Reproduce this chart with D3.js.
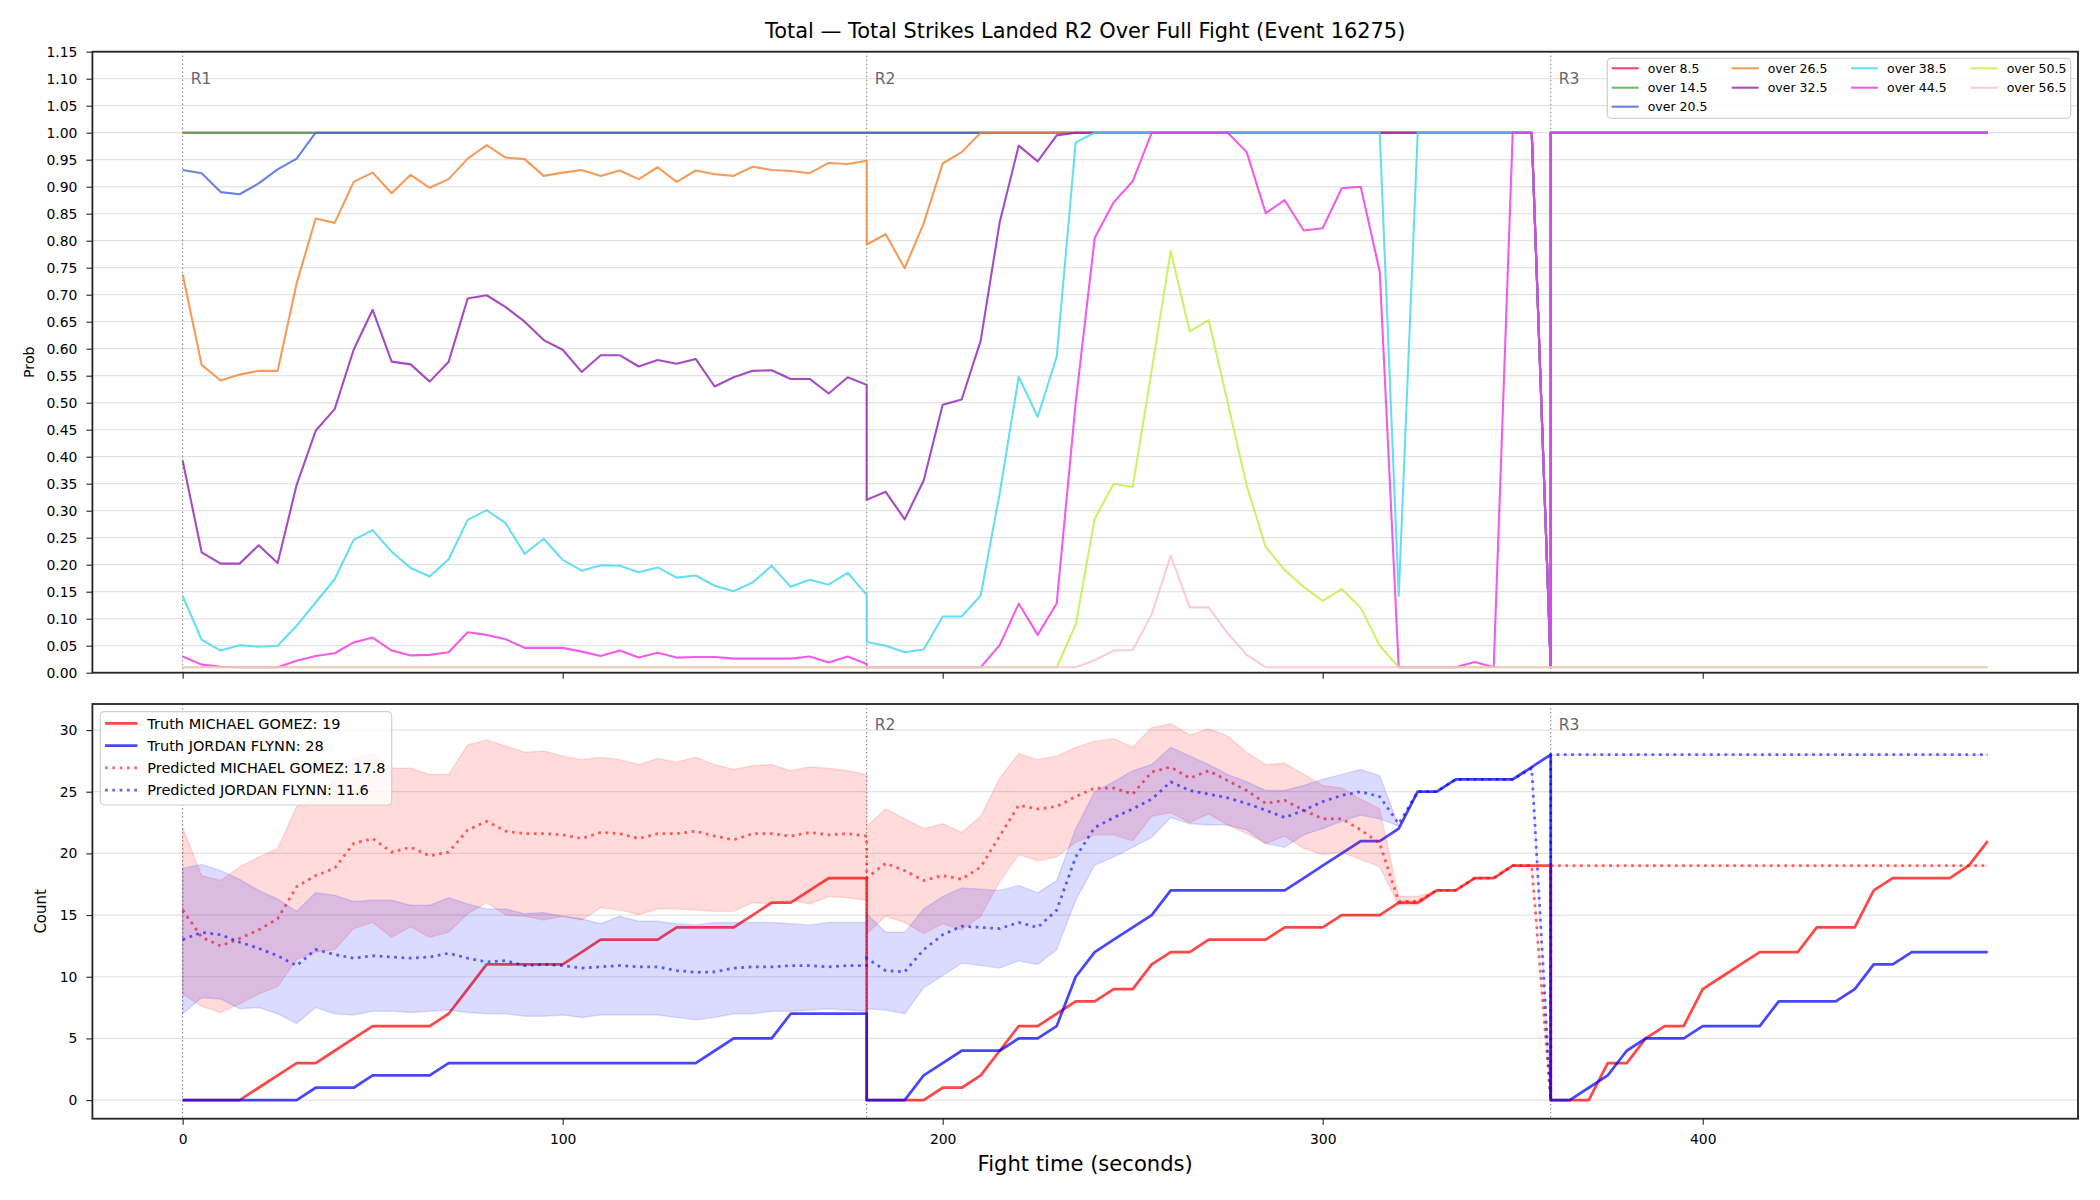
<!DOCTYPE html>
<html><head><meta charset="utf-8">
<script src="https://cdn.jsdelivr.net/npm/d3@7/dist/d3.min.js"></script>
<style>
body{margin:0;background:#fff}
text{font-family:"DejaVu Sans",sans-serif}
</style>
</head><body>
<svg id="c" width="2100" height="1200"></svg>
<script>
// ---------------- DATA ----------------
const times = [
 0,5,10,15,20,25,30,35,40,45,50,55,60,65,70,75,80,85,90,95,100,105,110,115,120,125,130,135,140,145,150,155,160,165,170,175,180,
 180,185,190,195,200,205,210,215,220,225,230,235,240,245,250,255,260,265,270,275,280,285,290,295,300,305,310,315,320,325,330,335,340,345,350,355,360,
 360,365,370,375,380,385,390,395,400,405,410,415,420,425,430,435,440,445,450,455,460,465,470,475];

const roundStarts = [0, 180, 360];
const roundLabels = ["R1", "R2", "R3"];

const lineLabels = ["over 8.5","over 14.5","over 20.5","over 26.5","over 32.5","over 38.5","over 44.5","over 50.5","over 56.5"];
const lineColors = ["#e6194b","#3cb44b","#4363d8","#f58231","#911eb4","#42d4f4","#f032e6","#bfef45","#fabed4"];

const over8_5 = [
 1,1,1,1,1,1,1,1,1,1, 1,1,1,1,1,1,1,1,1,1, 1,1,1,1,1,1,1,1,1,1, 1,1,1,1,1,1,1,
 1,1,1,1,1,1,1,1,1,1, 1,1,1,1,1,1,1,1,1,1, 1,1,1,1,1,1,1,1,1,1, 1,1,1,1,1,1,.01,
 1,1,1,1,1,1,1,1,1,1, 1,1,1,1,1,1,1,1,1,1, 1,1,1,1];
const over14_5 = [
 1,1,1,1,1,1,1,1,1,1, 1,1,1,1,1,1,1,1,1,1, 1,1,1,1,1,1,1,1,1,1, 1,1,1,1,1,1,1,
 1,1,1,1,1,1,1,1,1,1, 1,1,1,1,1,1,1,1,1,1, 1,1,1,1,1,1,1,1,1,1, 1,1,1,1,1,1,.01,
 1,1,1,1,1,1,1,1,1,1, 1,1,1,1,1,1,1,1,1,1, 1,1,1,1];
const over20_5 = [
 .931,.925,.890,.886,.906,.932,.952, 1,1,1, 1,1,1,1,1,1,1,1,1,1, 1,1,1,1,1,1,1,1,1,1, 1,1,1,1,1,1,1,
 1,1,1,1,1,1,1,1,1,1, 1,1,1,1,1,1,1,1,1,1, 1,1,1,1,1,1,1,1,1,1, 1,1,1,1,1,1,.01,
 1,1,1,1,1,1,1,1,1,1, 1,1,1,1,1,1,1,1,1,1, 1,1,1,1];
const over26_5 = [
 .738,.570,.541,.552,.559,.559,.721,.841,.833,.909, .926,.888,.922,.898,.914,.952,.977,.954,.951,.920,
 .926,.931,.920,.930,.914,.936,.909,.930,.923,.920, .937,.931,.929,.925,.944,.942,.948,
 .793,.812,.749,.832,.943,.964, 1,1,1,1, 1,1,1,1,1,1,1,1,1,1, 1,1,1,1,1,1,1,1,1,1, 1,1,1,1,1,1,.01,
 1,1,1,1,1,1,1,1,1,1, 1,1,1,1,1,1,1,1,1,1, 1,1,1,1];
const over32_5 = [
 .393,.223,.202,.202,.236,.203,.348,.448,.488,.598, .672,.576,.571,.539,.576,.693,.699,.677,.650,.616,
 .598,.557,.588,.588,.567,.579,.572,.581,.530,.547, .559,.560,.544,.544,.517,.547,.533,
 .320,.335,.284,.356,.496,.506,.615,.834,.976,.947, .995,1,1,1,1,1,1,1,1,1, 1,1,1,1,1,1,1,1,1,1, 1,1,1,1,1,1,.01,
 1,1,1,1,1,1,1,1,1,1, 1,1,1,1,1,1,1,1,1,1, 1,1,1,1];
const over38_5 = [
 .142,.061,.041,.051,.048,.050,.087,.130,.173,.246, .264,.224,.194,.178,.210,.283,.301,.277,.220,.248,
 .209,.189,.199,.198,.186,.195,.176,.180,.161,.151, .167,.198,.159,.172,.163,.185,.144,
 .057,.050,.038,.043,.104,.104,.143,.332,.548,.474, .585,.982,1,1,1,1,1,1,1,1, 1,1,1,1,1,1,1,1,.142,1, 1,1,1,1,1,1,.01,
 1,1,1,1,1,1,1,1,1,1, 1,1,1,1,1,1,1,1,1,1, 1,1,1,1];
const over44_5 = [
 .030,.015,.011,.010,.010,.010,.022,.031,.036,.056, .065,.041,.032,.033,.038,.075,.070,.062,.046,.046,
 .046,.039,.031,.041,.028,.037,.028,.029,.029,.026, .026,.026,.026,.030,.019,.030,.016,
 .01,.01,.01,.01,.01,.01,.01,.051,.128,.070, .128,.50,.805,.871,.910,1,1,1,1,1,
 .964,.851,.875,.819,.823,.897,.900,.743,.01,.01, .01,.01,.020,.01,1,1,.01,
 1,1,1,1,1,1,1,1,1,1, 1,1,1,1,1,1,1,1,1,1, 1,1,1,1];
const over50_5 = [
 .01,.01,.01,.01,.01,.01,.01,.01,.01,.01, .01,.01,.01,.01,.01,.01,.01,.01,.01,.01,
 .01,.01,.01,.01,.01,.01,.01,.01,.01,.01, .01,.01,.01,.01,.01,.01,.01,
 .01,.01,.01,.01,.01,.01,.01,.01,.01,.01, .01,.089,.285,.350,.344,.56,.781,.632,.653,.50,
 .346,.233,.190,.159,.133,.155,.120,.050,.01,.01, .01,.01,.01,.01,.01,.01,.01,
 .01,.01,.01,.01,.01,.01,.01,.01,.01,.01, .01,.01,.01,.01,.01,.01,.01,.01,.01,.01, .01,.01,.01,.01];
const over56_5 = [
 .01,.01,.01,.01,.01,.01,.01,.01,.01,.01, .01,.01,.01,.01,.01,.01,.01,.01,.01,.01,
 .01,.01,.01,.01,.01,.01,.01,.01,.01,.01, .01,.01,.01,.01,.01,.01,.01,
 .01,.01,.01,.01,.01,.01,.01,.01,.01,.01, .01,.01,.023,.041,.042,.108,.217,.121,.121,.073,
 .033,.01,.01,.01,.01,.01,.01,.01,.01,.01, .01,.01,.01,.01,.01,.01,.01,
 .01,.01,.01,.01,.01,.01,.01,.01,.01,.01, .01,.01,.01,.01,.01,.01,.01,.01,.01,.01, .01,.01,.01,.01];

const fighterLabels = ["Truth MICHAEL GOMEZ: 19","Truth JORDAN FLYNN: 28","Predicted MICHAEL GOMEZ: 17.8","Predicted JORDAN FLYNN: 11.6"];

const truthGomez = [
 0,0,0,0,1,2,3,3,4,5, 6,6,6,6,7,9,11,11,11,11, 11,12,13,13,13,13,14,14,14,14, 15,16,16,17,18,18,18,
 0,0,0,0,1,1,2,4,6,6, 7,8,8,9,9,11,12,12,13,13, 13,13,14,14,14,15,15,15,16,16, 17,17,18,18,19,19,19,
 0,0,0,3,3,5,6,6,9,10, 11,12,12,12,14,14,14,17,18,18, 18,18,19,21];
const truthFlynn = [
 0,0,0,0,0,0,0,1,1,1, 2,2,2,2,3,3,3,3,3,3, 3,3,3,3,3,3,3,3,4,5, 5,5,7,7,7,7,7,
 0,0,0,2,3,4,4,4,5,5, 6,10,12,13,14,15,17,17,17,17, 17,17,17,18,19,20,21,21,22,25, 25,26,26,26,26,27,28,
 0,0,1,2,4,5,5,5,6,6, 6,6,8,8,8,8,9,11,11,12, 12,12,12,12];
const predGomez = [
 15.4,13.2,12.5,13.1,13.8,14.7,17.3,18.2,18.8,20.8, 21.2,20.1,20.5,19.8,20.1,21.9,22.6,21.8,21.6,21.6,
 21.5,21.2,21.7,21.6,21.2,21.6,21.6,21.8,21.4,21.1, 21.6,21.6,21.4,21.7,21.5,21.6,21.4,
 18.0,19.2,18.6,17.8,18.2,17.9,18.9,21.4,23.9,23.6, 23.8,24.6,25.3,25.3,24.8,26.6,27.0,26.1,26.7,25.9,
 25.1,24.05,24.3,23.5,22.8,22.8,21.9,20.8,16.1,16.1, 17,17,18,18,19,19,0,
 19,19,19,19,19,19,19,19,19,19, 19,19,19,19,19,19,19,19,19,19, 19,19,19,19];
const predFlynn = [
 13.0,13.6,13.4,12.8,12.3,11.7,10.9,12.2,11.8,11.5, 11.7,11.6,11.5,11.6,11.9,11.5,11.2,11.3,10.9,11.0,
 10.9,10.7,10.8,10.9,10.8,10.8,10.5,10.35,10.4,10.7, 10.8,10.8,10.9,10.9,10.8,10.9,10.9,
 11.5,10.5,10.4,12.2,13.4,14.1,14.0,13.9,14.4,14.0, 15.4,19.7,22.1,22.9,23.6,24.4,25.8,25.1,24.8,24.5,
 24.05,23.5,22.9,23.5,24.2,24.7,25.0,24.6,22.4,25, 25,26,26,26,26,26.9,0,
 28,28,28,28,28,28,28,28,28,28, 28,28,28,28,28,28,28,28,28,28, 28,28,28,28];
const gomezHi = [
 22.1,18.2,17.8,18.9,19.7,20.4,23.8,24.4,26.0,27.7, 28.1,26.9,26.9,26.4,26.4,28.8,29.2,28.7,28.2,28.3,
 27.9,27.6,27.8,27.6,27.2,27.7,27.4,27.8,27.2,26.8, 27.1,27.2,26.7,27.0,26.9,26.7,26.4,
 22.2,23.6,22.8,22.0,22.4,21.7,23.0,26.1,28.1,27.6, 27.9,28.6,29.1,29.3,28.6,30.2,30.5,29.6,30.1,29.5,
 28.2,27.2,27.3,26.4,25.5,25.3,24.4,23.6,16.5,16.5, 17,17,18,18,19,19,0,
 19,19,19,19,19,19,19,19,19,19, 19,19,19,19,19,19,19,19,19,19, 19,19,19,19];
const gomezLo = [
 8.6,7.6,7.1,7.8,8.6,9.2,11.4,12.0,12.2,13.9, 14.4,13.2,14.05,13.2,13.6,15.1,16.0,15.0,14.9,14.6,
 14.9,14.6,15.6,15.4,15.05,15.5,15.5,15.4,15.3,15.3, 16.0,15.9,16.2,15.9,16.5,16.4,16.2,
 13.5,14.9,14.4,13.5,14.3,13.8,14.9,17.7,19.9,19.4, 19.7,20.9,21.5,21.5,21.0,23.0,23.3,22.5,23.2,22.3,
 21.6,20.8,21.4,20.4,19.9,20.1,19.5,18.9,15.8,15.8, 17,17,18,18,19,19,0,
 19,19,19,19,19,19,19,19,19,19, 19,19,19,19,19,19,19,19,19,19, 19,19,19,19];
const flynnHi = [
 18.8,19.1,18.6,17.9,17.0,16.3,15.3,16.8,16.6,16.1, 16.2,16.2,15.8,15.8,16.4,15.9,15.5,15.5,15.1,15.2,
 14.9,14.7,14.3,14.9,14.5,14.5,14.3,14.2,14.4,14.4, 14.4,14.4,14.3,14.2,14.4,14.4,14.4,
 15.1,13.6,13.6,15.5,16.5,17.2,17.1,17.0,17.4,16.8, 17.8,22.0,25.0,25.8,26.7,27.2,28.6,27.9,27.2,26.4,
 25.8,25.1,25.1,25.5,26.0,26.4,26.8,26.3,22.2,25, 25,26,26,26,26,26.9,0,
 28,28,28,28,28,28,28,28,28,28, 28,28,28,28,28,28,28,28,28,28, 28,28,28,28];
const flynnLo = [
 7.0,8.3,8.2,7.4,7.5,7.0,6.2,7.5,7.0,6.9, 7.2,7.2,7.1,7.2,7.3,7.1,7.0,7.0,6.8,6.8,
 6.9,6.7,6.9,6.9,6.9,6.9,6.7,6.5,6.7,7.0, 7.0,7.2,7.2,7.3,7.4,7.3,7.2,
 7.4,7.3,7.0,9.1,10.1,11.1,10.9,10.7,11.3,11.0, 12.2,16.2,19.05,19.7,20.5,21.3,22.9,22.4,22.3,22.3,
 21.9,20.8,20.5,21.5,22.0,22.6,23.1,22.8,22.2,25, 25,26,26,26,26,26.9,0,
 28,28,28,28,28,28,28,28,28,28, 28,28,28,28,28,28,28,28,28,28, 28,28,28,28];

const probTicks = [0,0.05,0.10,0.15,0.20,0.25,0.30,0.35,0.40,0.45,0.50,0.55,0.60,0.65,0.70,0.75,0.80,0.85,0.90,0.95,1.00,1.05,1.10,1.15];
const countTicks = [0,5,10,15,20,25,30];
const timeTicks = [0,100,200,300,400];

const titleText = "Total \u2014 Total Strikes Landed R2 Over Full Fight (Event 16275)";
const xLabelText = "Fight time (seconds)";

// ---------------- DRAW ----------------
const probSeries = [over8_5,over14_5,over20_5,over26_5,over32_5,over38_5,over44_5,over50_5,over56_5];
[...probSeries,truthGomez,truthFlynn,predGomez,predFlynn,gomezHi,gomezLo,flynnHi,flynnLo].forEach((s,i)=>{
  if (s.length!==times.length) console.error("length mismatch", i, s.length);
});

const svg = d3.select("#c");
svg.append("rect").attr("width",2100).attr("height",1200).attr("fill","#fff");
const FONT = '"DejaVu Sans", sans-serif';
const L = 92.4, R = 2078;
const TP = {t:51.7, b:672.7}, BP = {t:704, b:1118.7};

const x = d3.scaleLinear().domain([-23.75, 498.75]).range([L, R]);
const yT = d3.scaleLinear().domain([0, 1.15]).range([TP.b, TP.t]);
const yB = d3.scaleLinear().domain([-1.51, 32.11]).range([BP.b, BP.t]);

function panelBase(y, P, ticks, fmt, showX) {
  const g = svg.append("g");
  g.selectAll(".grid").data(ticks).join("line")
    .attr("x1", L).attr("x2", R).attr("y1", d=>y(d)).attr("y2", d=>y(d))
    .attr("stroke", "#e3e3e3").attr("stroke-width", 1.2);
  const ya = svg.append("g").attr("transform", `translate(${L},0)`)
    .call(d3.axisLeft(y).tickValues(ticks).tickFormat(fmt).tickSize(6).tickPadding(9));
  ya.select(".domain").remove();
  ya.selectAll("line").attr("stroke", "#222").attr("stroke-width", 1.1);
  ya.selectAll("text").attr("font-size", 13.9).attr("font-family", FONT).attr("fill", "#000");
  const xa = svg.append("g").attr("transform", `translate(0,${P.b})`)
    .call(d3.axisBottom(x).tickValues(timeTicks).tickFormat(showX ? d3.format("d") : () => "").tickSize(6).tickPadding(9));
  xa.select(".domain").remove();
  xa.selectAll("line").attr("stroke", "#222").attr("stroke-width", 1.1);
  xa.selectAll("text").attr("font-size", 13.9).attr("font-family", FONT).attr("fill", "#000");
  return g;
}

function roundMarkers(P, labelBaseline, showLabel) {
  const g = svg.append("g");
  roundStarts.forEach((rs, i) => {
    g.append("line").attr("x1", x(rs)).attr("x2", x(rs)).attr("y1", P.t).attr("y2", P.b)
      .attr("stroke", "#777").attr("stroke-width", 1).attr("stroke-dasharray", "1.4,2.6");
    if (showLabel[i]) {
      g.append("text").attr("x", x(rs) + 8).attr("y", labelBaseline)
        .attr("font-size", 15.5).attr("fill", "#666").attr("font-family", FONT).text(roundLabels[i]);
    }
  });
}

// ---------- top panel ----------
panelBase(yT, TP, probTicks, d3.format(".2f"), false);
roundMarkers(TP, 84, [true, true, true]);
const lineT = d3.line().x((d,i)=>x(times[i])).y(d=>yT(d));
probSeries.forEach((s, k) => {
  svg.append("path").attr("d", lineT(s)).attr("fill", "none")
    .attr("stroke", lineColors[k]).attr("stroke-opacity", 0.8).attr("stroke-width", 2.1)
    .attr("stroke-linejoin", "round");
});
svg.append("rect").attr("x", L).attr("y", TP.t).attr("width", R - L).attr("height", TP.b - TP.t)
  .attr("fill", "none").attr("stroke", "#222").attr("stroke-width", 1.8);

// top legend
{
  const g = svg.append("g");
  g.append("rect").attr("x", 1607.3).attr("y", 58.3).attr("width", 463.4).attr("height", 60).attr("rx", 4)
    .attr("fill", "#fff").attr("fill-opacity", 0.8).attr("stroke", "#cfcfcf").attr("stroke-width", 1.2);
  const colX = [1611.7, 1731.7, 1851, 1970.7];
  const rowY = [68.3, 87.7, 106.7];
  const layout = [[0,0],[0,1],[0,2],[1,0],[1,1],[2,0],[2,1],[3,0],[3,1]];
  layout.forEach(([c, r], k) => {
    g.append("line").attr("x1", colX[c]).attr("x2", colX[c] + 27).attr("y1", rowY[r]).attr("y2", rowY[r])
      .attr("stroke", lineColors[k]).attr("stroke-opacity", 0.8).attr("stroke-width", 2.1);
    g.append("text").attr("x", colX[c] + 36).attr("y", rowY[r] + 4.5).attr("font-size", 12.5)
      .attr("font-family", FONT).attr("fill", "#000").text(lineLabels[k]);
  });
}

// ---------- bottom panel ----------
panelBase(yB, BP, countTicks, d3.format("d"), true);
roundMarkers(BP, 729.5, [false, true, true]);
const lineB = d3.line().x((d,i)=>x(times[i])).y(d=>yB(d));
const areaB = (lo, hi) => d3.area().x((d,i)=>x(times[i])).y0((d,i)=>yB(lo[i])).y1((d,i)=>yB(hi[i]))(times);

const LW = 2.75;
svg.append("path").attr("d", lineB(truthGomez)).attr("fill", "none").attr("stroke", "red")
  .attr("stroke-opacity", 0.72).attr("stroke-width", LW).attr("stroke-linejoin", "round");
svg.append("path").attr("d", lineB(truthFlynn)).attr("fill", "none").attr("stroke", "blue")
  .attr("stroke-opacity", 0.72).attr("stroke-width", LW).attr("stroke-linejoin", "round");
svg.append("path").attr("d", areaB(gomezLo, gomezHi)).attr("fill", "red").attr("fill-opacity", 0.14)
  .attr("stroke", "red").attr("stroke-opacity", 0.12).attr("stroke-width", 1.4);
svg.append("path").attr("d", lineB(predGomez)).attr("fill", "none").attr("stroke", "red")
  .attr("stroke-opacity", 0.6).attr("stroke-width", LW).attr("stroke-dasharray", "2.75,4.55");
svg.append("path").attr("d", areaB(flynnLo, flynnHi)).attr("fill", "blue").attr("fill-opacity", 0.14)
  .attr("stroke", "blue").attr("stroke-opacity", 0.12).attr("stroke-width", 1.4);
svg.append("path").attr("d", lineB(predFlynn)).attr("fill", "none").attr("stroke", "blue")
  .attr("stroke-opacity", 0.6).attr("stroke-width", LW).attr("stroke-dasharray", "2.75,4.55");

svg.append("rect").attr("x", L).attr("y", BP.t).attr("width", R - L).attr("height", BP.b - BP.t)
  .attr("fill", "none").attr("stroke", "#222").attr("stroke-width", 1.8);

// bottom legend
{
  const g = svg.append("g");
  g.append("rect").attr("x", 100.4).attr("y", 711.7).attr("width", 291.3).attr("height", 93.3).attr("rx", 4)
    .attr("fill", "#fff").attr("fill-opacity", 0.8).attr("stroke", "#cfcfcf").attr("stroke-width", 1.2);
  const rowY = [723.3, 745.6, 767.9, 790.2];
  const styles = [
    {c:"red", o:0.72, dash:null}, {c:"blue", o:0.72, dash:null},
    {c:"red", o:0.6, dash:"2.75,4.55"}, {c:"blue", o:0.6, dash:"2.75,4.55"}];
  styles.forEach((s, k) => {
    const ln = g.append("line").attr("x1", 105).attr("x2", 137.5).attr("y1", rowY[k]).attr("y2", rowY[k])
      .attr("stroke", s.c).attr("stroke-opacity", s.o).attr("stroke-width", LW);
    if (s.dash) ln.attr("stroke-dasharray", s.dash);
    g.append("text").attr("x", 147.3).attr("y", rowY[k] + 5.2).attr("font-size", 14.5)
      .attr("font-family", FONT).attr("fill", "#000").text(fighterLabels[k]);
  });
}

// ---------- titles & labels ----------
svg.append("text").attr("x", (L + R) / 2).attr("y", 38).attr("text-anchor", "middle")
  .attr("font-size", 20.9).attr("font-family", FONT).attr("fill", "#000").text(titleText);
svg.append("text").attr("x", (L + R) / 2).attr("y", 1171).attr("text-anchor", "middle")
  .attr("font-size", 21.1).attr("font-family", FONT).attr("fill", "#000").text(xLabelText);
svg.append("text").attr("transform", `translate(34,${(TP.t + TP.b) / 2}) rotate(-90)`).attr("text-anchor", "middle")
  .attr("font-size", 14.2).attr("font-family", FONT).attr("fill", "#000").text("Prob");
svg.append("text").attr("transform", `translate(45.5,${(BP.t + BP.b) / 2}) rotate(-90)`).attr("text-anchor", "middle")
  .attr("font-size", 15).attr("font-family", FONT).attr("fill", "#000").text("Count");
</script>
</body></html>
